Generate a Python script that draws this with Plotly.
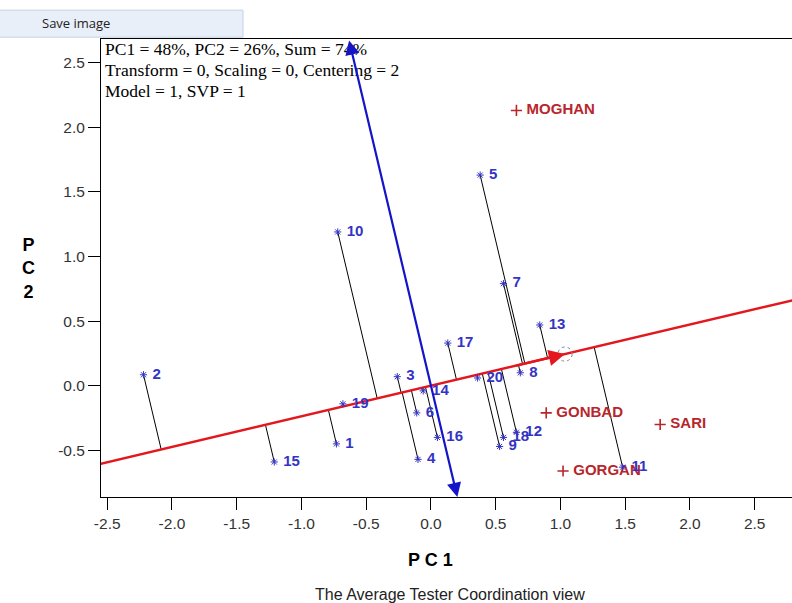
import numpy as np
import plotly.graph_objects as go

# ---------------- data ----------------
genotypes = ["1", "2", "3", "4", "5", "6", "7", "8", "9", "10",
             "11", "12", "13", "14", "15", "16", "17", "18", "19", "20"]
geno_pc1 = [-0.73, -2.22, -0.26, -0.10, 0.38, -0.11, 0.56, 0.69, 0.53, -0.72,
            1.48, 0.66, 0.84, -0.06, -1.21, 0.05, 0.13, 0.56, -0.68, 0.36]
geno_pc2 = [-0.45, 0.085, 0.07, -0.57, 1.63, -0.21, 0.79, 0.10, -0.47, 1.19,
            -0.63, -0.36, 0.47, -0.04, -0.59, -0.40, 0.33, -0.40, -0.14, 0.06]

environments = ["MOGHAN", "GONBAD", "SARI", "GORGAN"]
env_pc1 = [0.66, 0.89, 1.77, 1.02]
env_pc2 = [2.13, -0.21, -0.30, -0.66]

avg_env = [1.035, 0.245]   # average environment (small dashed circle)

info_lines = ["PC1 = 48%, PC2 = 26%, Sum = 74%",
              "Transform = 0, Scaling = 0, Centering = 2",
              "Model = 1, SVP = 1"]
x_ticks = [-2.5, -2.0, -1.5, -1.0, -0.5, 0.0, 0.5, 1.0, 1.5, 2.0, 2.5]
y_ticks = [-0.5, 0.0, 0.5, 1.0, 1.5, 2.0, 2.5]

XR = [-2.548, 2.788]
YR = [-0.861, 2.683]

# ---------------- derived geometry ----------------
u = np.array(avg_env) / np.linalg.norm(avg_env)          # ATC abscissa direction
G = np.column_stack([geno_pc1, geno_pc2])
feet = (G @ u)[:, None] * u[None, :]

proj_x, proj_y = [], []
for (gx, gy), (fx, fy) in zip(G, feet):
    proj_x += [gx, fx, None]
    proj_y += [gy, fy, None]

t = np.array([-4.0, 4.0])
red_x = t * u[0]
red_y = t * u[1]

# perpendicular (ATC ordinate) endpoints at plot edges
k = -u[1] / u[0]   # x = k * y along the perpendicular through origin
blue_top = (k * YR[1], YR[1])
blue_bot = (k * YR[0], YR[0])

RED = "#e3171d"
DRED = "#b8262c"
BLUE = "#3434c4"
DBLUE = "#1414c8"

fig = go.Figure()

fig.add_trace(go.Scatter(x=proj_x, y=proj_y, mode="lines",
                         line=dict(color="black", width=1),
                         hoverinfo="skip", showlegend=False))

fig.add_trace(go.Scatter(x=red_x, y=red_y, mode="lines",
                         line=dict(color=RED, width=2.5),
                         hoverinfo="skip", showlegend=False))

fig.add_trace(go.Scatter(x=env_pc1, y=env_pc2, mode="markers+text",
                         text=environments, texttemplate="\u00a0%{text}",
                         textposition="middle right",
                         textfont=dict(family="Liberation Sans, Arial", size=15,
                                       color=DRED, weight="bold"),
                         marker=dict(symbol="cross-thin-open", size=8, color=DRED,
                                     line=dict(color=DRED, width=1.6)),
                         showlegend=False))

fig.add_trace(go.Scatter(x=geno_pc1, y=geno_pc2, mode="markers+text",
                         text=genotypes, texttemplate="\u00a0%{text}",
                         textposition="middle right",
                         textfont=dict(family="Liberation Sans, Arial", size=15,
                                       color=BLUE, weight="bold"),
                         marker=dict(symbol="asterisk-open", size=6, color=BLUE,
                                     line=dict(color=BLUE, width=1)),
                         showlegend=False))

# dashed circle at average environment
r = 0.055
fig.add_shape(type="circle", xref="x", yref="y",
              x0=avg_env[0] - r, x1=avg_env[0] + r,
              y0=avg_env[1] - r, y1=avg_env[1] + r,
              line=dict(color="#888888", width=1, dash="dot"))

# "Save image" bar
fig.add_shape(type="rect", xref="paper", yref="paper",
              x0=-0.147, x1=0.2055, y0=1.004, y1=1.063,
              fillcolor="#e9eff8", line=dict(color="#c3d2e6", width=1),
              layer="above")

annotations = [
    dict(text="Save image", xref="paper", yref="paper", x=-0.088, y=1.034,
         xanchor="left", yanchor="middle", showarrow=False,
         font=dict(family="Open Sans, Noto Sans", size=13, color="#222222")),
]
for i, line in enumerate(info_lines):
    annotations.append(
        dict(text=line, xref="paper", yref="paper",
             x=0, y=1, xanchor="left", yanchor="middle", xshift=2, yshift=-10 - 21 * i,
             align="left", showarrow=False,
             font=dict(family="Liberation Serif, Times New Roman", size=17.5, color="black")))
annotations += [
    dict(text="P C 1", xref="x", yref="paper", x=0.0, y=0, yshift=-63,
         xanchor="center", yanchor="middle", showarrow=False,
         font=dict(family="Liberation Sans, Arial", size=18, color="black", weight="bold")),
    dict(text="P<br>C<br>2", xref="paper", yref="paper", x=-0.1056, y=0.5,
         xanchor="center", yanchor="middle", showarrow=False,
         font=dict(family="Liberation Sans, Arial", size=18, color="black", weight="bold")),
    dict(text="The Average Tester Coordination view", xref="paper", yref="paper",
         x=0.505, y=0, yshift=-97, xanchor="center", yanchor="middle",
         showarrow=False,
         font=dict(family="Liberation Sans, Arial", size=16, color="#222222")),
    # red arrow head at the average environment
    dict(x=avg_env[0], y=avg_env[1], ax=avg_env[0] - 0.4 * u[0], ay=avg_env[1] - 0.4 * u[1],
         xref="x", yref="y", axref="x", ayref="y", text="", showarrow=True,
         arrowhead=2, arrowsize=1.3, arrowwidth=2.5, arrowcolor=RED),
    # blue perpendicular double arrow
    dict(x=blue_bot[0], y=blue_bot[1], ax=blue_top[0], ay=blue_top[1],
         xref="x", yref="y", axref="x", ayref="y", text="", showarrow=True,
         arrowhead=2, startarrowhead=2, arrowside="end+start",
         arrowsize=1.3, startarrowsize=1.3, arrowwidth=2.2, arrowcolor=DBLUE),
]

fig.update_layout(
    width=792, height=603,
    margin=dict(l=101, r=0, t=39, b=106),
    paper_bgcolor="white", plot_bgcolor="white",
    annotations=annotations,
    xaxis=dict(range=XR, tickvals=x_ticks, ticktext=[f"{v:.1f}" for v in x_ticks],
               showgrid=False, zeroline=False, showline=True, linecolor="black",
               linewidth=1, mirror=True, ticks="outside", ticklen=12,
               tickcolor="black",
               tickfont=dict(family="Liberation Sans, Arial", size=15.5, color="#333333")),
    yaxis=dict(range=YR, tickvals=y_ticks, ticktext=[f"{v:.1f}" for v in y_ticks],
               showgrid=False, zeroline=False, showline=True, linecolor="black",
               linewidth=1, ticks="outside", ticklen=12, tickcolor="black",
               tickfont=dict(family="Liberation Sans, Arial", size=15.5, color="#333333")),
)

fig.write_html("out.html",
               config={"displayModeBar": False},
               post_script="document.body.style.margin='0';"
                           "document.body.style.overflow='hidden';")
